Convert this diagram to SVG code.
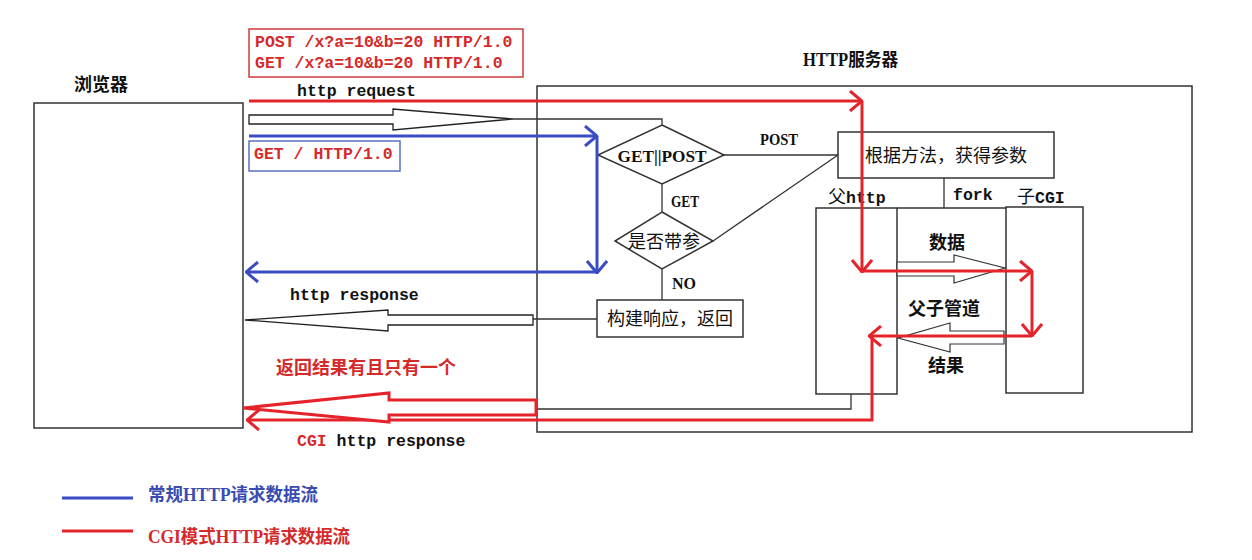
<svg xmlns="http://www.w3.org/2000/svg" width="1252" height="560" viewBox="0 0 1252 560">
<defs>
<style>
.bx{fill:#fff;stroke:#333;stroke-width:1.5}
.ln{fill:none;stroke:#333;stroke-width:1.3}
.red{fill:none;stroke:#e4242a;stroke-width:3}
.blue{fill:none;stroke:#3a4cc4;stroke-width:3}
.mono{font-family:"Liberation Mono","DejaVu Sans Mono",monospace;font-weight:bold;font-size:16.5px;fill:#111}
.ser{font-family:"Liberation Serif","Noto Sans CJK SC",serif;font-size:16px;font-weight:bold;fill:#111}
.cjk{font-family:"Liberation Serif","Noto Sans CJK SC",sans-serif;font-size:18px;fill:#111}
.rt{fill:#d42a2a}
.bt{fill:#3a4cb0}
</style>
<marker id="ar" viewBox="0 0 14 22" refX="13" refY="11" markerWidth="14" markerHeight="22" markerUnits="userSpaceOnUse" orient="auto">
<path d="M1,1 L13,11 L1,21" fill="none" stroke="#e4242a" stroke-width="3"/>
</marker>
<marker id="ab" viewBox="0 0 14 22" refX="13" refY="11" markerWidth="14" markerHeight="22" markerUnits="userSpaceOnUse" orient="auto">
<path d="M1,1 L13,11 L1,21" fill="none" stroke="#3a4cc4" stroke-width="3"/>
</marker>
</defs>
<rect width="1252" height="560" fill="#fff"/>

<g id="browser">
<rect class="bx" x="34" y="103" width="209" height="325"/>
<text class="cjk" x="74" y="91" font-weight="bold">浏览器</text>
</g>

<g id="server">
<rect class="bx" x="537" y="86" width="655" height="346"/>
<text class="cjk" x="803" y="66" font-size="17" font-weight="bold" textLength="95" lengthAdjust="spacingAndGlyphs">HTTP服务器</text>
</g>

<g id="request-box">
<rect x="249" y="29" width="274" height="48" fill="none" stroke="#d03a3a" stroke-width="1.5"/>
<text class="mono rt" x="255" y="47">POST /x?a=10&amp;b=20 HTTP/1.0</text>
<text class="mono rt" x="255" y="68">GET /x?a=10&amp;b=20 HTTP/1.0</text>
</g>

<g id="get-box">
<rect x="249" y="141" width="151" height="30" fill="none" stroke="#5a70c0" stroke-width="1.5"/>
<text class="mono rt" x="254" y="159">GET / HTTP/1.0</text>
</g>

<g id="diamond-method">
<polygon class="bx" points="662,125 724,155 662,184 598,155"/>
<text class="ser" x="662" y="162" font-size="17" text-anchor="middle" textLength="89" lengthAdjust="spacingAndGlyphs">GET||POST</text>
</g>

<g id="diamond-param">
<polygon class="bx" points="662,212 713,241 662,269 615,241"/>
<text class="cjk" x="664" y="248" text-anchor="middle">是否带参</text>
</g>

<g id="build-response">
<rect class="bx" x="597" y="300" width="146" height="37"/>
<text class="cjk" x="670" y="325" text-anchor="middle">构建响应，返回</text>
</g>

<g id="get-params">
<rect class="bx" x="838" y="132" width="216" height="46"/>
<text class="cjk" x="946" y="162" font-size="18.5" text-anchor="middle">根据方法，获得参数</text>
</g>

<g id="parent-http">
<rect class="bx" x="816" y="208" width="81" height="186"/>
<text class="cjk" x="828" y="203" font-size="17">父<tspan class="mono" font-size="15.5">http</tspan></text>
</g>

<g id="child-cgi">
<rect class="bx" x="1006" y="207" width="77" height="186"/>
<text class="cjk" x="1017" y="203" font-size="17">子<tspan class="mono" font-size="15.5">CGI</tspan></text>
</g>

<g id="connectors">
<polygon points="249,115 393,115 393,109 513,119 393,130 393,124 249,124" fill="#fff" stroke="#222" stroke-width="1.3"/>
<polyline class="ln" points="513,119 662,119 662,125"/>
<line class="ln" x1="724" y1="155" x2="838" y2="155"/>
<text class="ser" x="760" y="145" textLength="38" lengthAdjust="spacingAndGlyphs">POST</text>
<line class="ln" x1="662" y1="184" x2="662" y2="212"/>
<text class="ser" x="671" y="207" textLength="28" lengthAdjust="spacingAndGlyphs">GET</text>
<line class="ln" x1="713" y1="241" x2="838" y2="155"/>
<line class="ln" x1="662" y1="269" x2="662" y2="300"/>
<text class="ser" x="672" y="289" font-size="14">NO</text>
<line class="ln" x1="533" y1="319" x2="597" y2="319"/>
<polygon points="533,315 388,315 388,310 245,320 388,331 388,325 533,325" fill="#fff" stroke="#222" stroke-width="1.3"/>
<text class="mono" x="290" y="300">http response</text>
<line class="ln" x1="944" y1="178" x2="944" y2="208"/>
<line class="ln" x1="897" y1="208" x2="1006" y2="208"/>
<text class="mono" x="953" y="200" font-size="15.5">fork</text>
<polygon points="897,262 954,262 954,255 1005,268 954,283 954,276 897,276" fill="#fff" stroke="#333" stroke-width="1.2"/>
<polygon points="1004,331 950,331 950,323 898,338 950,352 950,344 1004,344" fill="#fff" stroke="#333" stroke-width="1.2"/>
<text class="cjk" x="929" y="249" font-weight="bold">数据</text>
<text class="cjk" x="908" y="315" font-size="18.5" font-weight="bold">父子管道</text>
<text class="cjk" x="928" y="372" font-weight="bold">结果</text>
<polyline class="ln" points="851,394 851,409 537,409"/>
<text class="mono" x="297" y="96">http request</text>
<line class="blue" x1="249" y1="136" x2="597" y2="136" marker-end="url(#ab)"/>
<line class="blue" x1="597" y1="136" x2="597" y2="273" marker-end="url(#ab)"/>
<line class="blue" x1="597" y1="272" x2="246" y2="272" marker-end="url(#ab)"/>
<line class="red" x1="249" y1="101" x2="862" y2="101" marker-end="url(#ar)"/>
<line class="red" x1="862" y1="101" x2="862" y2="272" marker-end="url(#ar)"/>
<line class="red" x1="862" y1="271" x2="1032" y2="271" marker-end="url(#ar)"/>
<line class="red" x1="1032" y1="271" x2="1032" y2="336" marker-end="url(#ar)"/>
<line class="red" x1="1032" y1="336" x2="869" y2="336" marker-end="url(#ar)"/>
<polyline class="red" points="872,336 872,420 247,420" marker-end="url(#ar)"/>
<polygon points="536,400 389,400 389,393 243,408 389,422 389,415 536,415" fill="#fff" stroke="#e4242a" stroke-width="3"/>
<text class="cjk rt" x="276" y="374" font-size="18.5" font-weight="bold">返回结果有且只有一个</text>
<text class="mono" x="297" y="446"><tspan class="rt">CGI</tspan> http response</text>
</g>

<g id="legend">
<line class="blue" x1="62" y1="498" x2="133" y2="498"/>
<text class="cjk bt" x="148" y="501" font-size="17" font-weight="bold" textLength="170" lengthAdjust="spacingAndGlyphs">常规HTTP请求数据流</text>
<line class="red" x1="62" y1="531" x2="133" y2="531"/>
<text class="cjk rt" x="148" y="543" font-size="17" font-weight="bold" textLength="202" lengthAdjust="spacingAndGlyphs">CGI模式HTTP请求数据流</text>
</g>
</svg>
